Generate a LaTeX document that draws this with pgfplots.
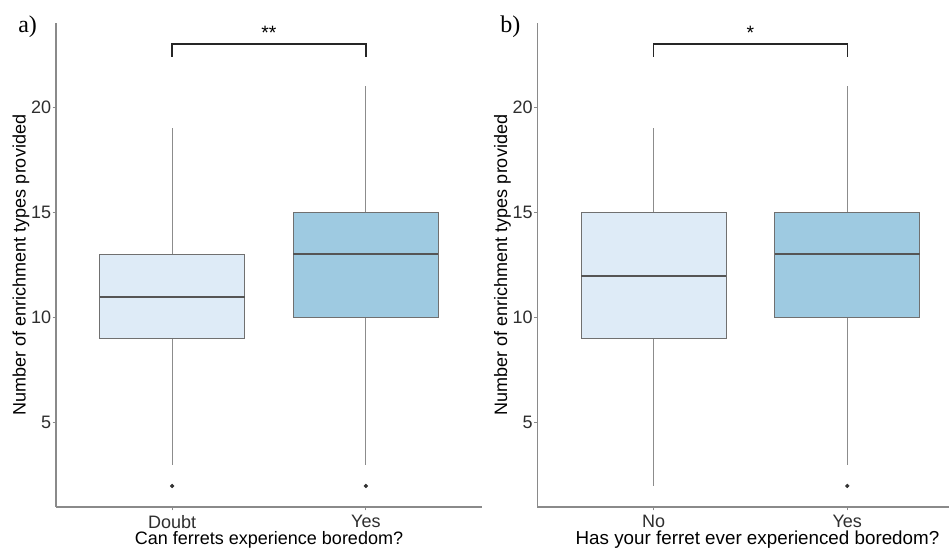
\documentclass[border=0pt]{standalone}
\usepackage{pgfplots}
\pgfplotsset{compat=1.18}
\usepackage{fontspec}
\setmainfont{Liberation Sans}
\newfontfamily\panelfont{Liberation Serif}
\definecolor{boxlight}{HTML}{DEEBF7}
\definecolor{boxdark}{HTML}{9ECAE1}
\definecolor{boxedge}{HTML}{707070}
\definecolor{medcol}{HTML}{555555}
\definecolor{axcol}{HTML}{8A8A8A}
\definecolor{wcol}{HTML}{8C8C8C}
\definecolor{ticktext}{HTML}{2E2E2E}

\pgfplotsset{
  ferret/.style={
    scale only axis,
    width=319.5pt, height=363pt,
    xmin=0.4, xmax=2.6,
    ymin=1, ymax=24,
    axis x line=bottom, axis y line=left,
    axis line style={axcol, line width=0.9pt, -},
    ytick={5,10,15,20},
    xtick={1,2},
    tick style={axcol, line width=0.7pt},
    major tick length=2.5pt,
    tick align=outside,
    /pgf/number format/assume math mode=true,
    tick label style={font=\fontsize{13.5}{16}\selectfont, text=ticktext},
    yticklabel style={inner xsep=1pt},
    every axis y label/.style={at={(axis description cs:-0.0715,0.5)}, rotate=90,
      anchor=base, font=\fontsize{13.5}{16}\selectfont},
    ylabel={Number of enrichment types provided},
    clip=false,
  },
  whisk/.style={wcol, line width=0.8pt},
  boxl/.style={draw=boxedge, fill=boxlight, line width=0.8pt},
  boxd/.style={draw=boxedge, fill=boxdark, line width=0.8pt},
  med/.style={medcol, line width=1.5pt},
  outl/.style={only marks, mark=*, mark size=1.4pt, draw=black!80, fill=black!80},
  brack/.style={black!85, line width=1.1pt, sharp plot},
}

\begin{document}
\begin{tikzpicture}
% ---------------- panel a ----------------
\begin{axis}[ferret, at={(42pt,31.5pt)}, anchor=south west,
  xticklabels={Doubt, Yes},
  every axis x label/.style={at={(axis description cs:0.5,0)}, anchor=base,
    yshift=-28.5pt, font=\fontsize{13.5}{16}\selectfont},
  xlabel={Can ferrets experience boredom?}]
% Doubt: whiskers 3-19, box 9-13, median 11, outlier 2
\addplot[whisk] coordinates {(1,3) (1,9)};
\addplot[whisk] coordinates {(1,13) (1,19)};
\addplot[boxl] coordinates {(0.625,9) (1.375,9) (1.375,13) (0.625,13)} -- cycle;
\addplot[med] coordinates {(0.625,11) (1.375,11)};
\addplot[outl] coordinates {(1,2)};
% Yes: whiskers 3-21, box 10-15, median 13, outlier 2
\addplot[whisk] coordinates {(2,3) (2,10)};
\addplot[whisk] coordinates {(2,15) (2,21)};
\addplot[boxd] coordinates {(1.625,10) (2.375,10) (2.375,15) (1.625,15)} -- cycle;
\addplot[med] coordinates {(1.625,13) (2.375,13)};
\addplot[outl] coordinates {(2,2)};
% significance bracket
\addplot[brack] coordinates {(1,22.4) (1,23) (2,23) (2,22.4)};
\node[font=\fontsize{14.5}{16}\selectfont, anchor=base] at (axis cs:1.5,23.2) {**};
\end{axis}
% ---------------- panel b ----------------
\begin{axis}[ferret, at={(403.1pt,31.5pt)}, anchor=south west,
  xticklabels={No, Yes},
  every axis x label/.style={at={(axis description cs:0.5165,0)}, anchor=base,
    yshift=-28.5pt, font=\fontsize{14.1}{16}\selectfont},
  xlabel={Has your ferret ever experienced boredom?}]
% No: whiskers 2-19, box 9-15, median 12
\addplot[whisk] coordinates {(1,2) (1,9)};
\addplot[whisk] coordinates {(1,15) (1,19)};
\addplot[boxl] coordinates {(0.625,9) (1.375,9) (1.375,15) (0.625,15)} -- cycle;
\addplot[med] coordinates {(0.625,12) (1.375,12)};
% Yes: whiskers 3-21, box 10-15, median 13, outlier 2
\addplot[whisk] coordinates {(2,3) (2,10)};
\addplot[whisk] coordinates {(2,15) (2,21)};
\addplot[boxd] coordinates {(1.625,10) (2.375,10) (2.375,15) (1.625,15)} -- cycle;
\addplot[med] coordinates {(1.625,13) (2.375,13)};
\addplot[outl] coordinates {(2,2)};
% significance bracket
\addplot[brack] coordinates {(1,22.4) (1,23) (2,23) (2,22.4)};
\node[font=\fontsize{14.5}{16}\selectfont, anchor=base] at (axis cs:1.5,23.2) {*};
\end{axis}
% panel letters
\node[font=\panelfont\fontsize{18}{20}\selectfont, anchor=base west, inner sep=0pt] at (13.5pt,387pt) {a)};
\node[font=\panelfont\fontsize{18}{20}\selectfont, anchor=base west, inner sep=0pt] at (375pt,387pt) {b)};
\pgfresetboundingbox
\path[use as bounding box] (0,0) rectangle (711.75pt,411.75pt);
\end{tikzpicture}
\end{document}
